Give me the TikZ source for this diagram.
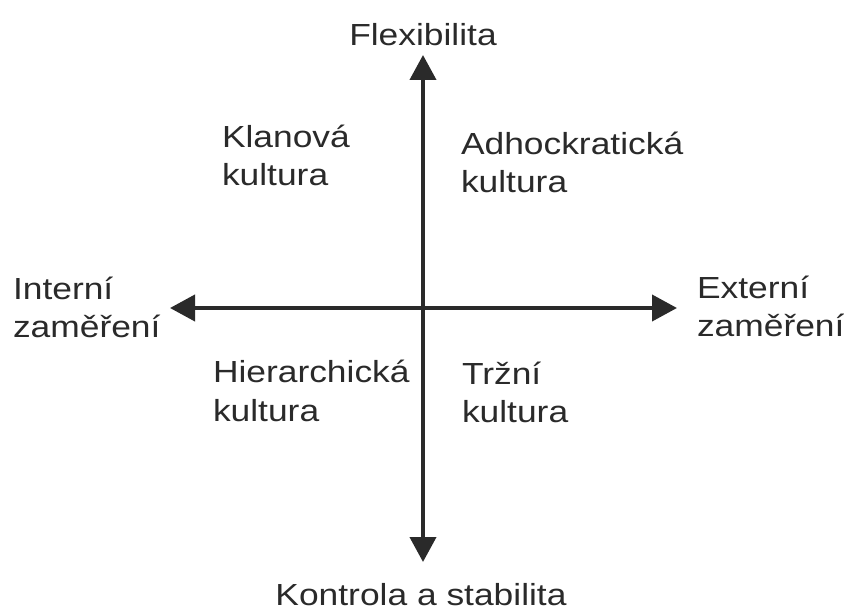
\documentclass[tikz,border=0pt]{standalone}
\usepackage{fontspec}
\setmainfont{Liberation Sans}[FakeStretch=1.16]
\usetikzlibrary{arrows.meta}
\definecolor{ink}{HTML}{2A2A2A}
\tikzset{
  lbl/.style={inner sep=0pt, outer sep=0pt, align=left, text=ink,
    font=\fontsize{30.5}{38.5}\selectfont},
  axis/.style={draw=ink, line width=4pt,
    {Triangle[length=25pt,width=26pt]}-{Triangle[length=25pt,width=26pt]}}
}
\begin{document}
\begin{tikzpicture}[x=1pt,y=-1pt]
\useasboundingbox (0,0) rectangle (844,612);
\coordinate (top) at (423,55);
\coordinate (bot) at (423,562);
\coordinate (lft) at (170,308);
\coordinate (rgt) at (677,308);
\draw[axis] (bot) -- (top);
\draw[axis] (lft) -- (rgt);
\node[lbl, anchor=base] (flex) at (423,46) {Flexibilita};
\node[lbl, anchor=base] (kontrola) at (421,605) {Kontrola a stabilita};
\node[lbl, anchor=base west] (klan) at (222,186) {Klanová\\kultura};
\node[lbl, anchor=base west] (adho) at (461,193) {Adhockratická\\kultura};
\node[lbl, anchor=base west] (intern) at (13,338) {Interní\\zaměření};
\node[lbl, anchor=base west] (extern) at (697,337) {Externí\\zaměření};
\node[lbl, anchor=base west] (hier) at (213,421) {Hierarchická\\kultura};
\node[lbl, anchor=base west] (trzni) at (462,423) {Tržní\\kultura};
\end{tikzpicture}
\end{document}
